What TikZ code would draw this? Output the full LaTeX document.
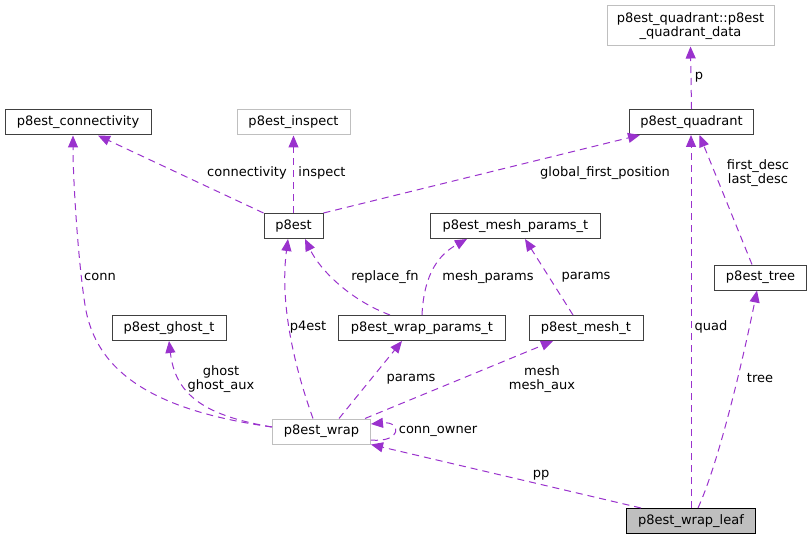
\documentclass[tikz,border=0pt]{standalone}
\usepackage{fontspec}
\setmainfont{DejaVu Sans}
\usepackage{xcolor}
\usetikzlibrary{arrows.meta, calc}

\definecolor{edgepurple}{HTML}{9A32CD}
\definecolor{lightborder}{HTML}{BFBFBF}
\definecolor{darkborder}{HTML}{404040}

\begin{document}
\begin{tikzpicture}[
        x=1pt, y=-1pt,
        cls/.style={draw=darkborder, line width=1pt, minimum height=25pt, inner sep=0pt, font=\fontsize{13}{14.5}\selectfont, align=center, fill=white},
        extcls/.style={cls, draw=lightborder},
        curcls/.style={cls, fill=lightborder, draw=black},
        edge/.style={-{Triangle[length=12pt, width=10pt]}, edgepurple, line width=1pt, dash pattern=on 7pt off 5pt},
        lbl/.style={font=\fontsize{13}{14.5}\selectfont, align=center, inner sep=0pt, text=black},
    ]
    \useasboundingbox (0,0) rectangle (811,540);

    % ---- CLASS BOXES ----
    \node[extcls, minimum width=167pt, minimum height=40pt] (qdata) at (690.5,26) {p8est\_quadrant::p8est\\\_quadrant\_data};
    \node[cls, minimum width=124pt] (quadrant) at (691.5,122) {p8est\_quadrant};
    \node[cls, minimum width=146pt] (connectivity) at (78,122.5) {p8est\_connectivity};
    \node[extcls, minimum width=113pt] (inspect) at (293.5,122.5) {p8est\_inspect};
    \node[cls, minimum width=59pt] (p8est) at (293.5,226) {p8est};
    \node[cls, minimum width=170pt] (meshparams) at (515.5,226) {p8est\_mesh\_params\_t};
    \node[cls, minimum width=92pt] (tree) at (760.5,277.5) {p8est\_tree};
    \node[cls, minimum width=114pt] (ghost) at (169,328) {p8est\_ghost\_t};
    \node[cls, minimum width=167pt] (wrapparams) at (422,328) {p8est\_wrap\_params\_t};
    \node[cls, minimum width=114pt] (mesh) at (586,328) {p8est\_mesh\_t};
    \node[extcls, minimum width=98pt] (wrap) at (321.5,431.5) {p8est\_wrap};
    \node[curcls, minimum width=129pt] (leaf) at (691,521) {p8est\_wrap\_leaf};

    % ---- UPPER EDGES ----
    \draw[edge] (quadrant.north) -- (qdata.south) node[lbl] at (699,77) {p};
    \draw[edge] (p8est.north west) -- ([xshift=20pt]connectivity.south) node[lbl] at (247,173) {connectivity};
    \draw[edge] (p8est.north) -- (inspect.south) node[lbl] at (322,173) {inspect};
    \draw[edge] (p8est.north east) -- ([xshift=11pt]quadrant.south west) node[lbl] at (605,173) {global\_first\_position};
    \draw[edge] ([xshift=-8.5pt]tree.north) -- ([xshift=8pt]quadrant.south) node[lbl] at (758,173) {first\_desc\\last\_desc};

    % ---- WRAP PARAMS / MESH ----
    \draw[edge] ([xshift=-32pt]wrapparams.north) .. controls (350,300) and (320,270) .. ([xshift=11.5pt]p8est.south) node[lbl] at (385,277) {replace\_fn};
    \draw[edge] (wrapparams.north) .. controls (424,272) and (440,254) .. ([xshift=-48.5pt]meshparams.south) node[lbl] at (488,277) {mesh\_params};
    \draw[edge] ([xshift=-13pt]mesh.north) -- ([xshift=9.5pt]meshparams.south) node[lbl] at (586,277) {params};

    % ---- FROM WRAP ----
    \draw[edge] ([xshift=-8.5pt]wrap.north) .. controls (292,360) and (280,300) .. ([xshift=-5.5pt]p8est.south) node[lbl] at (308,327) {p4est};
    \draw[edge] ([yshift=4.5pt]wrap.west) .. controls (150,410) and (95,370) .. (85,305) .. controls (78,260) and (73,180) .. ([xshift=-5pt]connectivity.south) node[lbl] at (100,277) {conn};
    \draw[edge] ([yshift=4.5pt]wrap.west) .. controls (200,415) and (175,392) .. (ghost.south) node[lbl] at (221,379) {ghost\\ghost\_aux};
    \draw[edge] ([xshift=17.5pt]wrap.north) -- ([xshift=-20pt]wrapparams.south) node[lbl] at (411,379) {params};
    \draw[edge] ([xshift=43.5pt]wrap.north) -- ([xshift=-33pt]mesh.south) node[lbl] at (542,379) {mesh\\mesh\_aux};
    \draw[edge] ([yshift=-8.5pt]wrap.east) .. controls (402,443) and (402,421) .. ([yshift=7.5pt]wrap.east) node[lbl] at (438,431) {conn\_owner};

    % ---- FROM LEAF ----
    \draw[edge] ([xshift=-50pt]leaf.north) -- (wrap.south east) node[lbl] at (541,475) {pp};
    \draw[edge] (leaf.north) -- (leaf.north |- quadrant.south) node[lbl] at (711,327) {quad};
    \draw[edge] ([xshift=7pt]leaf.north) .. controls (720,460) and (745,350) .. ([xshift=-3.5pt]tree.south) node[lbl] at (760,378) {tree};

    \end{tikzpicture}
\end{document}
